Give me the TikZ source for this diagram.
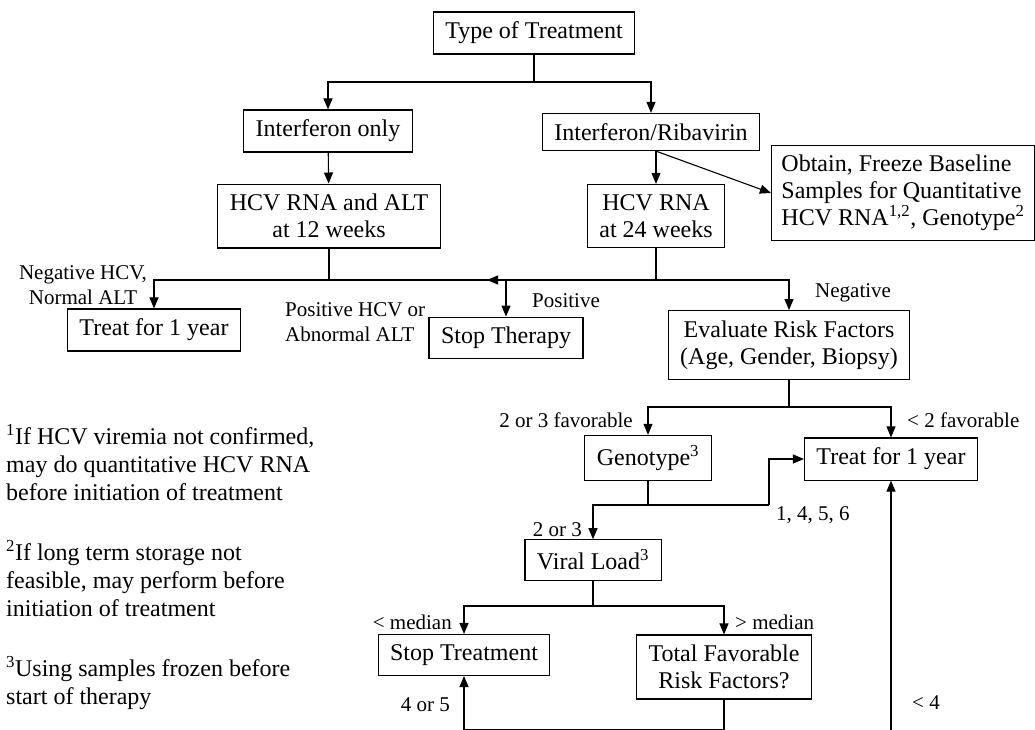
\documentclass[tikz,border=0pt]{standalone}
\usepackage{fontspec}
\setmainfont{Liberation Serif}
\usepackage{tikz}
\usetikzlibrary{arrows.meta,calc}
\tikzset{
   box/.style={draw=black, line width=1.1pt, fill=white, inner xsep=12pt, inner ysep=10pt,
               align=center, font=\fontsize{24}{27}\selectfont},
   lbl/.style={inner sep=0pt, font=\fontsize{21}{25}\selectfont},
   note/.style={inner sep=0pt, anchor=north west, align=left, font=\fontsize{24}{28}\selectfont},
   link/.style={line width=1.1pt, -{Triangle[length=11pt,width=9pt]}},
   plain/.style={line width=1.1pt}
}

\begin{document}
\begin{tikzpicture}[x=1pt,y=-1pt]
\useasboundingbox[fill=white] (0,0) rectangle (1035,729);

% boxes
\node[box] (type)    at (534,33)  {Type of Treatment};
\node[box] (ifn)     at (328,131) {Interferon only};
\node[box] (ifnrib)  at (651,132) {Interferon/Ribavirin};
\node[box] (alt12)   at (329,216) {HCV RNA and ALT\\at 12 weeks};
\node[box] (rna24)   at (656,216) {HCV RNA\\at 24 weeks};
\node[box,align=left,inner xsep=10pt] (obtain) at (903,193)
   {Obtain, Freeze Baseline\\Samples for Quantitative\\HCV RNA\textsuperscript{1,2}, Genotype\textsuperscript{2}};
\node[box] (treatA)  at (154,330) {Treat for 1 year};
\node[box] (stopTh)  at (506,338) {Stop Therapy};
\node[box] (evalrisk) at (789,345) {Evaluate Risk Factors\\(Age, Gender, Biopsy)};
\node[box] (geno)    at (648,458) {Genotype\textsuperscript{3}};
\node[box] (treatB)  at (891,459) {Treat for 1 year};
\node[box] (viral)   at (593,560) {Viral Load\textsuperscript{3}};
\node[box] (stopTr)  at (464,655) {Stop Treatment};
\node[box] (total)   at (724,667) {Total Favorable\\Risk Factors?};

% junctions
\coordinate (j1) at (534,82);
\coordinate (j2) at (329,280);
\coordinate (j3) at (656,280);
\coordinate (tipL) at (487,280);
\coordinate (j4) at (789,407);
\coordinate (j5) at (648,505);
\coordinate (j6) at (769,505);
\coordinate (j7) at (593,606);
\coordinate (b1) at (724,729.4);
\coordinate (b2) at (464,729.4);
\coordinate (b3) at (891,745);

% connectors
\draw[plain] (type) -- (j1);
\draw[link] (j1) -| (ifn);
\draw[link] (j1) -| (ifnrib);
\draw[link] (ifn) -- (alt12);
\draw[link] (ifnrib.south -| rna24) -- (rna24);
\draw[link] (ifnrib.south -| rna24) -- (obtain.west);
\draw[plain] (alt12) -- (j2);
\draw[link] (j2) -| (treatA);
\draw[link] (j2) -| (stopTh);
\draw[plain] (rna24) -- (j3);
\draw[link] (j3) -- (tipL);
\draw[link] (j3) -| (evalrisk);
\draw[plain] (evalrisk) -- (j4);
\draw[link] (j4) -| (geno);
\draw[link] (j4) -| (treatB);
\draw[plain] (geno) -- (j5) -- (j6);
\draw[link] (j6) |- (treatB);
\draw[link] (j5) -| (viral);
\draw[plain] (viral) -- (j7);
\draw[link] (j7) -| (stopTr);
\draw[link] (j7) -| (total);
\draw[link] (total) -- (b1) -- (b2) -- (stopTr);
\draw[link] (b3) -- (treatB);

% labels
\node[lbl,align=center] (lNegA) at (83,285) {Negative HCV,\\Normal ALT};
\node[lbl,align=left,anchor=west] (lPosA) at (285,322) {Positive HCV or\\Abnormal ALT};
\node[lbl,anchor=west] (lPosB) at (532,301) {Positive};
\node[lbl,anchor=west] (lNegB) at (815,293) {Negative};
\node[lbl,anchor=east] (lFav) at (633,420) {2 or 3 favorable};
\node[lbl,anchor=west] (lUnfav) at (907,420) {< 2 favorable};
\node[lbl,anchor=west] (lGenoA) at (776,515) {1, 4, 5, 6};
\node[lbl,anchor=east] (lGenoB) at (582,530) {2 or 3};
\node[lbl,anchor=east] (lLow) at (452,622) {< median};
\node[lbl,anchor=west] (lHigh) at (735,622) {> median};
\node[lbl,anchor=east] (lFour) at (450,705) {4 or 5};
\node[lbl,anchor=west] (lLess) at (912,703) {< 4};

% footnotes
\node[note] (fn1) at (6,424) {\textsuperscript{1}If HCV viremia not confirmed,\\may do quantitative HCV RNA\\before initiation of treatment};
\node[note] (fn2) at (6,540) {\textsuperscript{2}If long term storage not\\feasible, may perform before\\initiation of treatment};
\node[note] (fn3) at (6,656) {\textsuperscript{3}Using samples frozen before\\start of therapy};
\end{tikzpicture}
\end{document}
